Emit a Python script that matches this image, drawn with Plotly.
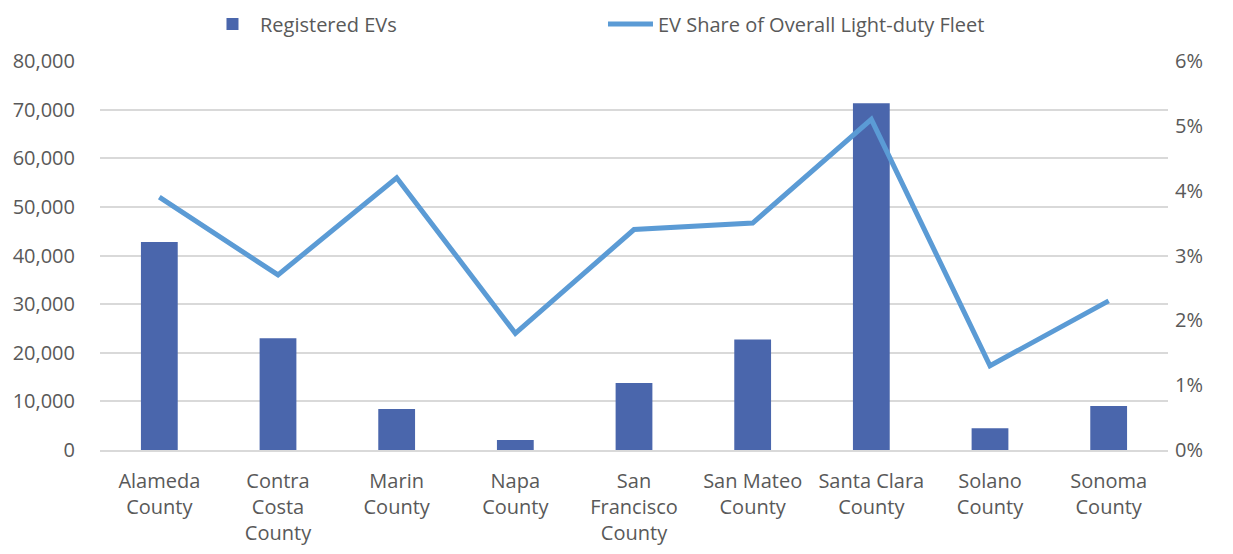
import plotly.graph_objects as go

# Bay Area counties, EV registrations and EV share of light-duty fleet
counties = ["Alameda<br>County", "Contra<br>Costa<br>County", "Marin<br>County", "Napa<br>County",
            "San<br>Francisco<br>County", "San Mateo<br>County", "Santa Clara<br>County",
            "Solano<br>County", "Sonoma<br>County"]
registered_evs = [42800, 23000, 8450, 2050, 13800, 22700, 71300, 4450, 9050]
ev_share = [0.039, 0.027, 0.042, 0.018, 0.034, 0.035, 0.051, 0.013, 0.023]

left_ticks = [0, 10000, 20000, 30000, 40000, 50000, 60000, 70000, 80000]
right_ticks = [0, 0.01, 0.02, 0.03, 0.04, 0.05, 0.06]

font_color = "#595959"
grid_color = "#D9D9D9"

fig = go.Figure()

fig.add_trace(go.Bar(x=counties, y=registered_evs, name="Registered EVs",
                     marker=dict(color="#4A66AC", line=dict(width=0)), width=0.31))
fig.add_trace(go.Scatter(x=counties, y=ev_share, name="EV Share of Overall Light-duty Fleet",
                         mode="lines", line=dict(color="#5B9BD5", width=5), yaxis="y2"))

# page body has an 8px margin, so offsets are shifted accordingly
fig.update_layout(
    width=1233, height=554,
    margin=dict(l=92, r=73, t=53, b=112, autoexpand=False),
    paper_bgcolor="white", plot_bgcolor="white",
    font=dict(family="Open Sans, Liberation Sans, sans-serif", size=20, color=font_color),
    showlegend=True,
    legend=dict(orientation="h", x=0.0983, xanchor="left", y=1.095, yanchor="middle",
                font=dict(size=20, color=font_color), itemwidth=45,
                traceorder="normal", entrywidth=338),
    xaxis=dict(showgrid=False, showline=True, linecolor=grid_color, linewidth=1.5,
               ticks="", tickfont=dict(size=20, color=font_color), ticklabelstandoff=12),
    yaxis=dict(range=[0, 80000], tickvals=left_ticks, tickformat=",",
               showgrid=True, gridcolor=grid_color, gridwidth=1.5, zeroline=False,
               tickfont=dict(size=20, color=font_color), ticklabelstandoff=24),
    yaxis2=dict(range=[0, 0.06], tickvals=right_ticks, tickformat=".0%",
                overlaying="y", side="right", showgrid=False, zeroline=False,
                tickfont=dict(size=20, color=font_color), ticklabelstandoff=6),
)

fig.write_html("out.html")
